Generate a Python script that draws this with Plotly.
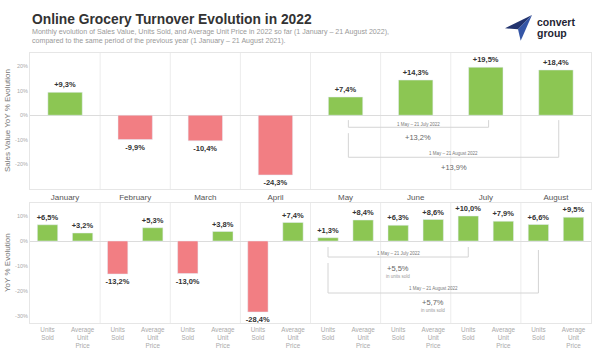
import plotly.graph_objects as go

# ---------------- data ----------------
months = ["January", "February", "March", "April", "May", "June", "July", "August"]
sales_value = [9.3, -9.9, -10.4, -24.3, 7.4, 14.3, 19.5, 18.4]
units_sold = [6.5, -13.2, -13.0, -28.4, 1.3, 6.3, 10.0, 6.6]
avg_unit_price = [3.2, 5.3, 3.8, 7.4, 8.4, 8.6, 7.9, 9.5]
bottom_tick_labels = ["Units<br>Sold", "Average<br>Unit<br>Price"]
top_yticks = [-20, -10, 0, 10, 20]
bottom_yticks = [-30, -20, -10, 0, 10]

sales_periods = [
    ("1 May – 21 July 2022", "May", "July", "+13,2%"),
    ("1 May – 21 August 2022", "May", "August", "+13,9%"),
]
units_periods = [
    ("1 May – 21 July 2022", "May", "July", "+5,5%", "in units sold"),
    ("1 May – 21 August 2022", "May", "August", "+5,7%", "in units sold"),
]

title = "Online Grocery Turnover Evolution in 2022"
subtitle = ("Monthly evolution of Sales Value, Units Sold, and Average Unit Price in 2022 so far (1 January – 21 August 2022),"
            "<br>compared to the same period of the previous year (1 January – 21 August 2021).")

# ---------------- style ----------------
GREEN = "#8cc653"
RED = "#f27e83"
FONT = "Arial"
W, H = 600, 355
ML, MR, MT, MB = 30, 9, 53, 32
PW, PH = W - ML - MR, H - MT - MB


def px(xp):
    return (xp - ML) / PW


def py(yp):
    return (H - MB - yp) / PH


def fmt(v):
    return "<b>" + f"{v:+.1f}%".replace(".", ",") + "</b>"


def colors(vals):
    return [GREEN if v >= 0 else RED for v in vals]


idx = list(range(len(months)))

fig = go.Figure()
fig.add_trace(go.Bar(
    x=idx, y=sales_value, width=0.49, marker_color=colors(sales_value),
    text=[fmt(v) for v in sales_value], textposition="outside", cliponaxis=False,
    textfont=dict(size=7.5, color="#333", family=FONT), constraintext="none",
    xaxis="x", yaxis="y", showlegend=False, hoverinfo="skip"))
fig.add_trace(go.Bar(
    x=[i - 0.25 for i in idx], y=units_sold, width=0.29, marker_color=colors(units_sold),
    text=[fmt(v) for v in units_sold], textposition="outside", cliponaxis=False,
    textfont=dict(size=7.5, color="#333", family=FONT), constraintext="none",
    xaxis="x2", yaxis="y2", showlegend=False, hoverinfo="skip"))
fig.add_trace(go.Bar(
    x=[i + 0.25 for i in idx], y=avg_unit_price, width=0.29, marker_color=colors(avg_unit_price),
    text=[fmt(v) for v in avg_unit_price], textposition="outside", cliponaxis=False,
    textfont=dict(size=7.5, color="#333", family=FONT), constraintext="none",
    xaxis="x2", yaxis="y2", showlegend=False, hoverinfo="skip"))

shapes = []
annotations = []
GRID = "#ececec"
# category separators
for i in idx[:-1]:
    for xr, yr in (("x", "y"), ("x2", "y2")):
        shapes.append(dict(type="line", xref=xr, yref=yr + " domain", x0=i + 0.5, x1=i + 0.5,
                           y0=0, y1=1, line=dict(color=GRID, width=1), layer="below"))

BR = "#d4d4d4"


def bracket(xr, yr, x0, x1, ytop0, ytop1, ybot):
    shapes.append(dict(type="line", xref=xr, yref=yr, x0=x0, x1=x0, y0=ytop0, y1=ybot, line=dict(color=BR, width=1)))
    shapes.append(dict(type="line", xref=xr, yref=yr, x0=x1, x1=x1, y0=ytop1, y1=ybot, line=dict(color=BR, width=1)))
    shapes.append(dict(type="line", xref=xr, yref=yr, x0=x0, x1=x1, y0=ybot, y1=ybot, line=dict(color=BR, width=1)))


# top brackets
top_layout = [(-2.0, -2.0, -4.9, -3.6, -9.0), (-7.3, -2.0, -17.1, -15.6, -21.2)]
for (label, m0, m1, val), (t0, t1, b, ly, vy) in zip(sales_periods, top_layout):
    x0 = months.index(m0) + 0.04
    x1 = months.index(m1) + 0.04
    bracket("x", "y", x0, x1, t0, t1, b)
    mid = (x0 + x1) / 2
    annotations.append(dict(xref="x", yref="y", x=mid, y=ly, text=label, showarrow=False,
                            font=dict(size=4.5, color="#777", family=FONT)))
    annotations.append(dict(xref="x", yref="y", x=mid, y=vy, text=val, showarrow=False,
                            font=dict(size=7.5, color="#666", family=FONT)))

# bottom brackets
bot_layout = [(-2.4, -2.4, -6.4, -5.0, -10.8, -14.0), (-8.8, -3.6, -20.8, -19.0, -24.4, -27.6)]
for (label, m0, m1, val, sub), (t0, t1, b, ly, vy, sy) in zip(units_periods, bot_layout):
    x0 = months.index(m0) - 0.25
    x1 = months.index(m1) - 0.25
    bracket("x2", "y2", x0, x1, t0, t1, b)
    mid = (x0 + x1) / 2
    annotations.append(dict(xref="x2", yref="y2", x=mid, y=ly, text=label, showarrow=False,
                            font=dict(size=4.5, color="#777", family=FONT)))
    annotations.append(dict(xref="x2", yref="y2", x=mid, y=vy, text=val, showarrow=False,
                            font=dict(size=7.5, color="#666", family=FONT)))
    annotations.append(dict(xref="x2", yref="y2", x=mid, y=sy, text=sub, showarrow=False,
                            font=dict(size=4.5, color="#999", family=FONT)))

# titles
annotations.append(dict(xref="paper", yref="paper", x=px(30), y=py(19.5), xanchor="left", yanchor="middle",
                        text="<b>" + title + "</b>", showarrow=False,
                        font=dict(size=13.8, color="#333", family=FONT)))
annotations.append(dict(xref="paper", yref="paper", x=px(30), y=py(26), xanchor="left", yanchor="top",
                        text=subtitle, showarrow=False, align="left",
                        font=dict(size=7.1, color="#999", family=FONT)))
annotations.append(dict(xref="paper", yref="paper", x=px(7), y=py(121), xanchor="center", yanchor="middle",
                        text="Sales Value YoY % Evolution", textangle=-90, showarrow=False,
                        font=dict(size=8, color="#777", family=FONT)))
annotations.append(dict(xref="paper", yref="paper", x=px(7), y=py(263), xanchor="center", yanchor="middle",
                        text="YoY % Evolution", textangle=-90, showarrow=False,
                        font=dict(size=8, color="#777", family=FONT)))
# logo text
annotations.append(dict(xref="paper", yref="paper", x=px(535), y=py(22), xanchor="left", yanchor="middle",
                        text="<b>convert</b>", showarrow=False,
                        font=dict(size=10.5, color="#1f2533", family=FONT)))
annotations.append(dict(xref="paper", yref="paper", x=px(535), y=py(33), xanchor="left", yanchor="middle",
                        text="<b>group</b>", showarrow=False,
                        font=dict(size=10.5, color="#1f2533", family=FONT)))


def ppath(pts):
    return "M " + " L ".join(f"{px(a):.5f},{py(b):.5f}" for a, b in pts) + " Z"


tip, left, notch, bottom = (532, 15), (505, 28.3), (518, 29.3), (520.7, 40.7)
shapes.append(dict(type="path", xref="paper", yref="paper", path=ppath([tip, left, notch]),
                   fillcolor="#22336e", line=dict(width=0)))
shapes.append(dict(type="path", xref="paper", yref="paper", path=ppath([tip, notch, bottom]),
                   fillcolor="#3556a6", line=dict(width=0)))

LINE = "#e6e6e6"
axis_common = dict(showgrid=False, showline=True, linecolor=LINE, linewidth=1, mirror=True, ticks="",
                   automargin=False)
d_top0 = py(189)
d_bot1 = py(203)

fig.update_layout(
    width=W, height=H, margin=dict(l=ML, r=MR, t=MT, b=MB),
    paper_bgcolor="white", plot_bgcolor="white", barmode="overlay",
    font=dict(family=FONT),
    xaxis=dict(domain=[0, 1], anchor="y", range=[-0.5, 7.5], tickvals=idx, ticktext=months,
               tickfont=dict(size=8, color="#555"), zeroline=False, **axis_common),
    yaxis=dict(domain=[d_top0, 1], anchor="x", range=[-30, 25.3], tickvals=top_yticks,
               ticktext=[f"{v}%" for v in top_yticks], tickfont=dict(size=5.5, color="#aaa"),
               zeroline=True, zerolinecolor="#dcdcdc", zerolinewidth=1, **axis_common),
    xaxis2=dict(domain=[0, 1], anchor="y2", range=[-0.5, 7.5],
                tickvals=[i + o for i in idx for o in (-0.25, 0.25)],
                ticktext=[t for _ in idx for t in bottom_tick_labels],
                tickfont=dict(size=6.3, color="#aaa"), zeroline=False, **axis_common),
    yaxis2=dict(domain=[0, d_bot1], anchor="x2", range=[-32.8, 15.2], tickvals=bottom_yticks,
                ticktext=[f"{v}%" for v in bottom_yticks], tickfont=dict(size=5.5, color="#aaa"),
                zeroline=True, zerolinecolor="#dcdcdc", zerolinewidth=1, **axis_common),
    shapes=shapes, annotations=annotations,
)

fig.write_html("out.html", config={"displayModeBar": False},
               post_script="document.body.style.margin='0';document.body.style.overflow='hidden';")
